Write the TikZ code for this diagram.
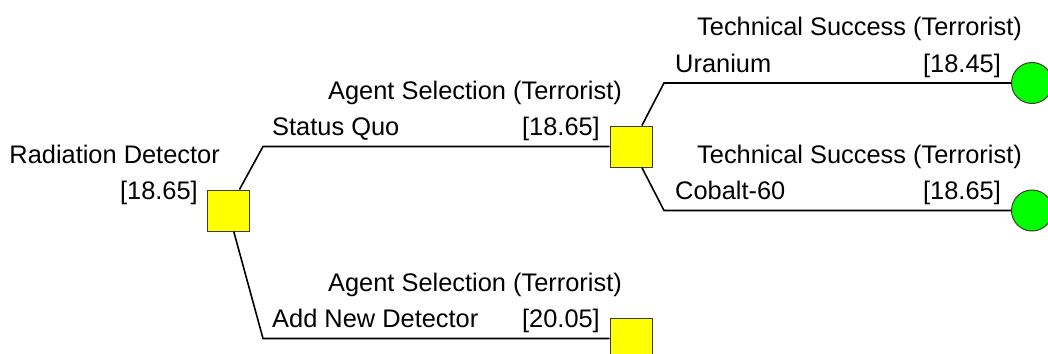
\documentclass[tikz,border=0pt]{standalone}
\usepackage{fontspec}
\setmainfont{Liberation Sans}
\definecolor{nodeedge}{RGB}{60,60,40}
\definecolor{decfill}{RGB}{255,255,0}
\definecolor{chfill}{RGB}{0,255,0}
\begin{document}
\begin{tikzpicture}[x=1pt,y=-1pt,
  decision/.style={rectangle, draw=nodeedge, line width=1pt, fill=decfill,
    minimum width=42pt, minimum height=41pt, inner sep=0pt},
  chance/.style={circle, draw=nodeedge, line width=1pt, fill=chfill,
    minimum size=41pt, inner sep=0pt},
  branch/.style={line width=1.6pt, black},
  lbl/.style={font=\fontsize{25.4}{30}\selectfont, inner sep=0pt}]
\useasboundingbox (0,0) rectangle (1048,353);

% nodes
\node[decision] (root) at (228,210.5) {};
\node[decision] (sq) at (631,146.5) {};
\node[decision] (nd) at (631,338.5) {};
\node[chance] (ur) at (1032,83) {};
\node[chance] (co) at (1032,210.5) {};

% bend points of the branches
\coordinate (bsq) at (263,146.5);
\coordinate (bnd) at (263,338.5);
\coordinate (bur) at (664,83);
\coordinate (bco) at (664,210.5);

% branches
\draw[branch] (root) -- (bsq) -- (sq);
\draw[branch] (root) -- (bnd) -- (nd);
\draw[branch] (sq) -- (bur) -- (ur);
\draw[branch] (sq) -- (bco) -- (co);

% node names and values
\node[lbl, anchor=base east] (rootname) at (220,163) {Radiation Detector};
\node[lbl, anchor=base east] (rootval) at (198,199) {[18.65]};
\node[lbl, anchor=base east] (sqname) at (622,99) {Agent Selection (Terrorist)};
\node[lbl, anchor=base east] (sqval) at (600,135) {[18.65]};
\node[lbl, anchor=base east] (ndname) at (622,291) {Agent Selection (Terrorist)};
\node[lbl, anchor=base east] (ndval) at (600,327) {[20.05]};
\node[lbl, anchor=base east] (urname) at (1022,36) {Technical Success (Terrorist)};
\node[lbl, anchor=base east] (urval) at (1001,72) {[18.45]};
\node[lbl, anchor=base east] (coname) at (1022,163) {Technical Success (Terrorist)};
\node[lbl, anchor=base east] (coval) at (1001,199) {[18.65]};

% branch labels
\node[lbl, anchor=base west] (sqlab) at (272,135) {Status Quo};
\node[lbl, anchor=base west] (ndlab) at (272,327) {Add New Detector};
\node[lbl, anchor=base west] (urlab) at (675,72) {Uranium};
\node[lbl, anchor=base west] (colab) at (675,199) {Cobalt-60};
\end{tikzpicture}
\end{document}
